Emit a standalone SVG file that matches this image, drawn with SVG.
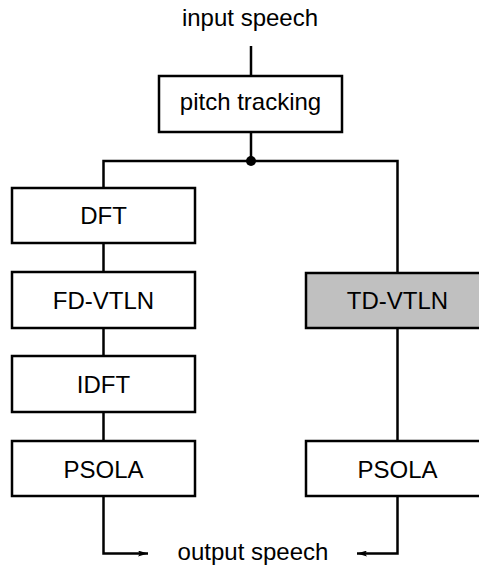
<svg xmlns="http://www.w3.org/2000/svg" width="479" height="567" viewBox="0 0 479 567">
<defs>
<style>
.box{fill:#fff;stroke:#000;stroke-width:2.5}
.gray{fill:#c0c0c0}
.t{font-family:"Liberation Sans",Arial,sans-serif;font-size:24px;fill:#000;text-anchor:middle}
.c{fill:none;stroke:#000;stroke-width:2.5}
</style>
<marker id="ah" viewBox="0 0 10 6" refX="10" refY="3" markerWidth="10" markerHeight="6" markerUnits="userSpaceOnUse" orient="auto">
<path d="M0,0 L10,3 L0,6 L2,3 Z" fill="#000"/>
</marker>
</defs>
<rect width="479" height="567" fill="#fff"/>
<g id="connectors">
<path class="c" d="M251,46 V76"/>
<path class="c" d="M251,132 V161"/>
<path class="c" d="M103.5,188 V161 H397.5 V273"/>
<circle cx="251" cy="161" r="5" fill="#000"/>
<path class="c" d="M103.5,243 V272"/>
<path class="c" d="M103.5,328 V356"/>
<path class="c" d="M103.5,412 V441"/>
<path class="c" d="M397.5,328 V441"/>
<path class="c" d="M103.5,496 V553.5 H148" marker-end="url(#ah)"/>
<path class="c" d="M397.5,496 V553.5 H357" marker-end="url(#ah)"/>
</g>
<g id="input"><text class="t" x="250" y="26">input speech</text></g>
<g id="pitch"><rect class="box" x="159" y="76" width="183" height="56"/><text class="t" x="250.5" y="110">pitch tracking</text></g>
<g id="dft"><rect class="box" x="12" y="188" width="183" height="55"/><text class="t" x="103.5" y="224">DFT</text></g>
<g id="fdvtln"><rect class="box" x="12" y="272" width="183" height="56"/><text class="t" x="103.5" y="309">FD-VTLN</text></g>
<g id="idft"><rect class="box" x="12" y="356" width="183" height="56"/><text class="t" x="103.5" y="393">IDFT</text></g>
<g id="psola1"><rect class="box" x="12" y="441" width="183" height="55"/><text class="t" x="103.5" y="478">PSOLA</text></g>
<g id="tdvtln"><rect class="box gray" x="306" y="273" width="183" height="55"/><text class="t" x="397.5" y="309">TD-VTLN</text></g>
<g id="psola2"><rect class="box" x="306" y="441" width="183" height="55"/><text class="t" x="397.5" y="478">PSOLA</text></g>
<g id="output"><text class="t" x="253" y="560">output speech</text></g>
</svg>
